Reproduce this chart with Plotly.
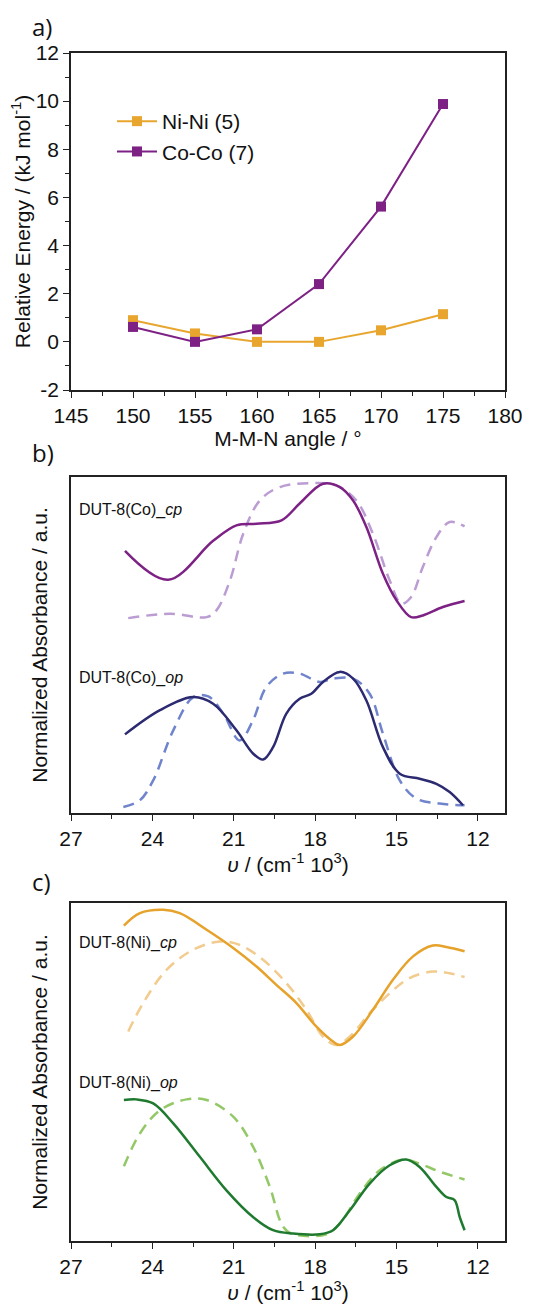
import plotly.graph_objects as go

# ---------------- Panel a data ----------------
angles = [150, 155, 160, 165, 170, 175]
ni_energy = [0.9, 0.35, 0.0, 0.0, 0.48, 1.15]
co_energy = [0.62, 0.0, 0.52, 2.4, 5.62, 9.88]

# ---------------- Panel b data (normalized, a.u.) ----------------
co_cp_x = [25.01, 23.42, 21.76, 20.9, 20.16, 19.24, 18.57, 17.71, 17.09, 16.6, 16.11, 15.5, 15.0, 14.46, 14.03, 13.29, 12.49]
co_cp_y = [0.78, 0.694, 0.81, 0.856, 0.861, 0.871, 0.921, 0.98, 0.97, 0.93, 0.851, 0.712, 0.633, 0.583, 0.588, 0.613, 0.631]
co_cp_d_x = [24.89, 23.35, 22.0, 21.64, 21.14, 20.65, 20.04, 19.30, 17.95, 17.22, 16.48, 15.87, 15.25, 14.82, 14.46, 14.03, 13.53, 13.04, 12.49]
co_cp_d_y = [0.58, 0.593, 0.583, 0.603, 0.692, 0.831, 0.93, 0.97, 0.982, 0.975, 0.93, 0.831, 0.692, 0.623, 0.643, 0.732, 0.821, 0.866, 0.853]
co_op_x = [25.01, 23.72, 22.49, 21.76, 20.9, 20.29, 19.92, 19.55, 19.06, 18.57, 18.14, 17.71, 17.09, 16.6, 16.11, 15.5, 14.88, 14.15, 13.53, 13.04, 12.55]
co_op_y = [0.234, 0.306, 0.345, 0.325, 0.246, 0.177, 0.159, 0.196, 0.296, 0.340, 0.355, 0.39, 0.42, 0.40, 0.335, 0.196, 0.117, 0.102, 0.087, 0.0625, 0.023]
co_op_d_x = [25.07, 24.46, 23.97, 23.23, 22.49, 21.94, 21.39, 20.78, 20.29, 19.8, 19.18, 18.57, 17.83, 17.34, 16.6, 15.99, 15.5, 14.88, 14.27, 13.41, 12.49]
co_op_d_y = [0.018, 0.038, 0.097, 0.246, 0.345, 0.347, 0.296, 0.216, 0.276, 0.375, 0.415, 0.415, 0.39, 0.40, 0.40, 0.355, 0.236, 0.097, 0.043, 0.028, 0.023]

# ---------------- Panel c data (normalized, a.u.) ----------------
ni_cp_x = [25.05, 24.46, 23.6, 22.99, 22.0, 21.02, 20.16, 19.43, 18.69, 17.95, 17.34, 17.09, 16.6, 15.87, 15.13, 14.39, 13.66, 13.16, 12.49]
ni_cp_y = [0.933, 0.970, 0.980, 0.970, 0.921, 0.867, 0.812, 0.758, 0.704, 0.634, 0.590, 0.580, 0.605, 0.684, 0.773, 0.842, 0.874, 0.870, 0.857]
ni_cp_d_x = [24.89, 24.34, 23.48, 22.49, 21.51, 20.78, 19.92, 19.06, 18.32, 17.71, 17.22, 16.72, 15.99, 15.25, 14.52, 13.66, 13.04, 12.49]
ni_cp_d_y = [0.620, 0.704, 0.802, 0.862, 0.886, 0.876, 0.832, 0.763, 0.684, 0.605, 0.580, 0.605, 0.674, 0.733, 0.778, 0.797, 0.792, 0.781]
ni_op_x = [25.05, 24.58, 23.97, 23.23, 22.25, 21.27, 20.29, 19.55, 18.81, 17.83, 17.34, 16.72, 15.99, 15.25, 14.64, 14.15, 13.53, 13.16, 12.86, 12.67, 12.49]
ni_op_y = [0.417, 0.419, 0.407, 0.348, 0.249, 0.150, 0.071, 0.032, 0.022, 0.020, 0.032, 0.091, 0.170, 0.224, 0.241, 0.219, 0.160, 0.130, 0.121, 0.071, 0.032]
ni_op_d_x = [25.05, 24.46, 23.72, 22.74, 22.0, 21.02, 20.29, 19.67, 19.18, 18.81, 17.59, 17.09, 16.36, 15.62, 14.76, 14.15, 13.41, 12.49]
ni_op_d_y = [0.221, 0.318, 0.387, 0.419, 0.417, 0.368, 0.279, 0.160, 0.042, 0.020, 0.020, 0.051, 0.140, 0.209, 0.241, 0.229, 0.205, 0.182]

# ---------------- Text ----------------
panel_labels = ["a)", "b)", "c)"]
sample_labels = ["DUT-8(Co)_<i>cp</i>", "DUT-8(Co)_<i>op</i>", "DUT-8(Ni)_<i>cp</i>", "DUT-8(Ni)_<i>op</i>"]
angle_ticks = [145, 150, 155, 160, 165, 170, 175, 180]
energy_ticks = [-2, 0, 2, 4, 6, 8, 10, 12]
energy_tick_text = ["-2", "0", "2", "4", "6", "8", "10", "12"]
wavenumber_ticks = [27, 24, 21, 18, 15, 12]

# ---------------- Styles ----------------
FONT = "Arial"
C_NI = "#E8A62E"
C_CO = "#7D2185"
C_CO_CP_D = "#BB9CD3"
C_CO_OP = "#2C2A70"
C_CO_OP_D = "#6F84CC"
C_NI_CP = "#E6A22B"
C_NI_CP_D = "#F2CB8E"
C_NI_OP = "#1F7A30"
C_NI_OP_D = "#92C866"
DASH = "11px,7px"

# page body adds an 8px margin; compensate so the figure lands where the reference is
OFF = 8
W, H = 553 - OFF, 1304 - OFF
L, R, T, B = 71 - OFF, W - (505 - OFF), 53 - OFF, H - (1241 - OFF)
PH = H - T - B
PW = W - L - R


def ydom(top_px, bot_px):
    return [(1241 - bot_px) / PH, (1241 - top_px) / PH]


def px_x(px):
    return (px - 71) / PW


def px_y(py):
    return (1241 - py) / PH


fig = go.Figure()

# Panel a
fig.add_trace(go.Scatter(x=angles, y=ni_energy, mode="lines+markers", name="Ni-Ni (5)",
                         line=dict(color=C_NI, width=2), marker=dict(symbol="square", size=10, color=C_NI),
                         xaxis="x", yaxis="y"))
fig.add_trace(go.Scatter(x=angles, y=co_energy, mode="lines+markers", name="Co-Co (7)",
                         line=dict(color=C_CO, width=2), marker=dict(symbol="square", size=10, color=C_CO),
                         xaxis="x", yaxis="y"))

# Panel b
for xs, ys, col, dash in [(co_cp_d_x, co_cp_d_y, C_CO_CP_D, DASH),
                          (co_cp_x, co_cp_y, C_CO, "solid"),
                          (co_op_d_x, co_op_d_y, C_CO_OP_D, DASH),
                          (co_op_x, co_op_y, C_CO_OP, "solid")]:
    fig.add_trace(go.Scatter(x=xs, y=ys, mode="lines", showlegend=False,
                             line=dict(color=col, width=2.5, dash=dash, shape="spline", smoothing=1.0),
                             xaxis="x2", yaxis="y2"))

# Panel c
for xs, ys, col, dash in [(ni_cp_d_x, ni_cp_d_y, C_NI_CP_D, DASH),
                          (ni_cp_x, ni_cp_y, C_NI_CP, "solid"),
                          (ni_op_d_x, ni_op_d_y, C_NI_OP_D, DASH),
                          (ni_op_x, ni_op_y, C_NI_OP, "solid")]:
    fig.add_trace(go.Scatter(x=xs, y=ys, mode="lines", showlegend=False,
                             line=dict(color=col, width=2.5, dash=dash, shape="spline", smoothing=1.0),
                             xaxis="x3", yaxis="y3"))

TXT = dict(family=FONT, size=21, color="#111")

axis_common = dict(showline=True, linecolor="#222", linewidth=1.5, mirror=True, showgrid=False,
                   zeroline=False, ticks="outside", ticklen=6, tickwidth=1.2, tickcolor="#222",
                   tickfont=TXT, automargin=False)

wav_x = dict(axis_common, range=[27, 11], tickvals=wavenumber_ticks,
             minor=dict(ticks="outside", ticklen=4, tickwidth=1, tickcolor="#222", dtick=3, tick0=25.5),
             title=dict(text="<i>υ</i> / (cm<sup>-1</sup> 10<sup>3</sup>)", font=TXT, standoff=2))

fig.update_layout(
    width=W, height=H,
    margin=dict(l=L, r=R, t=T, b=B),
    paper_bgcolor="white", plot_bgcolor="white",
    font=dict(family=FONT, color="#111"),
    showlegend=True,
    legend=dict(x=px_x(112), y=px_y(101), xanchor="left", yanchor="top", bgcolor="rgba(0,0,0,0)",
                font=TXT, itemwidth=40, tracegroupgap=0),
    xaxis=dict(axis_common, domain=[0, 1], anchor="y", range=[145, 180], tickvals=angle_ticks,
               minor=dict(ticks="outside", ticklen=4, tickwidth=1, tickcolor="#222", dtick=2.5, tick0=145),
               title=dict(text="M-M-N angle / °", font=TXT, standoff=4)),
    yaxis=dict(axis_common, domain=ydom(53, 390), anchor="x", range=[-2, 12], tickvals=energy_ticks,
               ticktext=energy_tick_text,
               minor=dict(ticks="outside", ticklen=4, tickwidth=1, tickcolor="#222", dtick=1, tick0=-2),
               title=dict(text="Relative Energy / (kJ mol<sup>-1</sup>)", font=TXT, standoff=6)),
    xaxis2=dict(wav_x, domain=[0, 1], anchor="y2"),
    yaxis2=dict(axis_common, domain=ydom(477, 813), anchor="x2", range=[0, 1], ticks="",
                showticklabels=False,
                title=dict(text="Normalized Absorbance / a.u.", font=TXT, standoff=16)),
    xaxis3=dict(wav_x, domain=[0, 1], anchor="y3"),
    yaxis3=dict(axis_common, domain=ydom(903, 1241), anchor="x3", range=[0, 1], ticks="",
                showticklabels=False,
                title=dict(text="Normalized Absorbance / a.u.", font=TXT, standoff=16)),
)

# panel letters
for lab, py in zip(panel_labels, [26, 452, 881]):
    fig.add_annotation(text=lab, x=px_x(30), y=px_y(py), xref="paper", yref="paper",
                       xanchor="left", yanchor="middle", showarrow=False,
                       font=dict(family="Open Sans", size=24, color="#111"))

# sample labels
for lab, py in zip(sample_labels, [510, 678, 943, 1083]):
    fig.add_annotation(text=lab, x=px_x(77), y=px_y(py), xref="paper", yref="paper",
                       xanchor="left", yanchor="middle", showarrow=False,
                       font=dict(family=FONT, size=16, color="#111"))

fig.write_html("out.html")
